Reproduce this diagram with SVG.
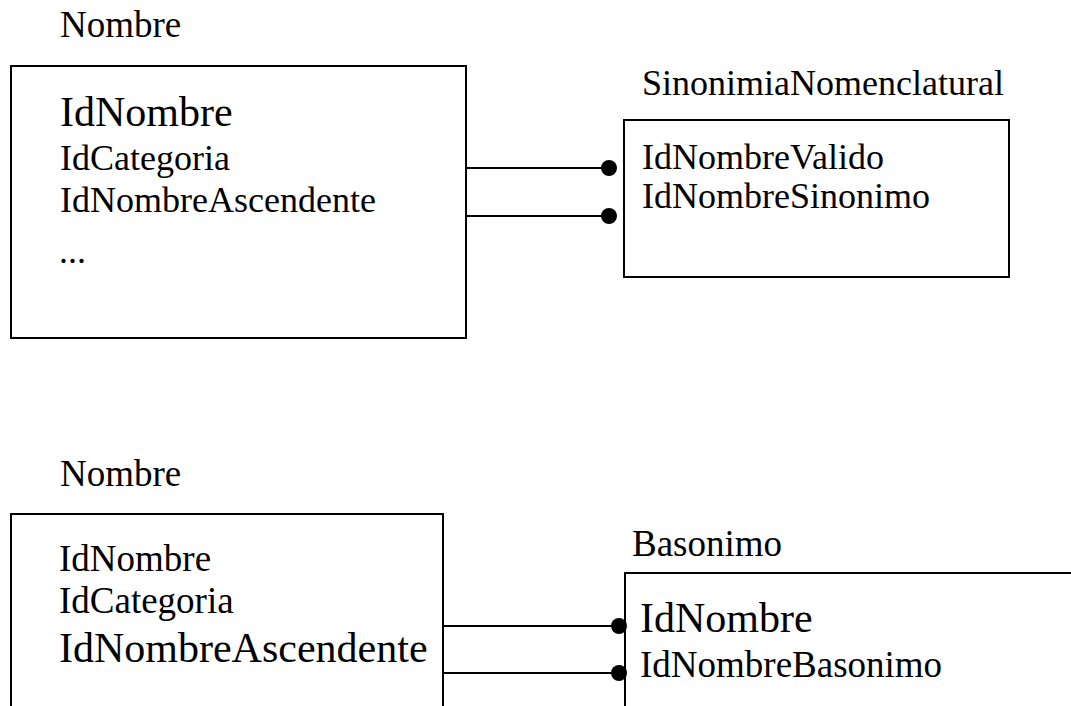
<svg xmlns="http://www.w3.org/2000/svg" width="1071" height="706" viewBox="0 0 1071 706">
<style>
  .box { fill: #ffffff; stroke: #000000; stroke-width: 2; }
  .conn { stroke: #000000; stroke-width: 2; fill: none; marker-end: url(#dot); }
  .t { font-family: "Liberation Serif", "Times New Roman", Times, serif; fill: #000000; font-size: 36px; }
  .m { font-size: 37px; }
  .big { font-size: 42px; }
</style>
<defs>
  <marker id="dot" markerUnits="userSpaceOnUse" markerWidth="18" markerHeight="18" refX="9" refY="9" viewBox="0 0 18 18" orient="auto">
    <circle cx="9" cy="9" r="8" fill="#000000"/>
  </marker>
</defs>
<rect width="1071" height="706" fill="#ffffff"/>

<g id="nombre-top">
  <text class="t m" x="60" y="37">Nombre</text>
  <rect class="box" x="11" y="66" width="455" height="272"/>
  <text class="t big" x="60" y="126">IdNombre</text>
  <text class="t" x="60" y="170">IdCategoria</text>
  <text class="t" x="60" y="212">IdNombreAscendente</text>
  <text class="t" x="59" y="263">...</text>
</g>

<g id="sinonimia">
  <text class="t" x="642" y="95">SinonimiaNomenclatural</text>
  <rect class="box" x="624" y="120" width="385" height="157"/>
  <text class="t" x="642" y="169">IdNombreValido</text>
  <text class="t" x="642" y="208">IdNombreSinonimo</text>
</g>

<g id="nombre-bottom">
  <text class="t m" x="60" y="486">Nombre</text>
  <rect class="box" x="11" y="514" width="432" height="220"/>
  <text class="t m" x="59" y="571">IdNombre</text>
  <text class="t m" x="59" y="613">IdCategoria</text>
  <text class="t big" x="59" y="662">IdNombreAscendente</text>
</g>

<g id="basonimo">
  <text class="t m" x="632" y="556">Basonimo</text>
  <rect class="box" x="625" y="573" width="480" height="200"/>
  <text class="t big" x="640" y="632">IdNombre</text>
  <text class="t m" x="640" y="677">IdNombreBasonimo</text>
</g>

<g id="connectors">
  <line class="conn" x1="466" y1="168" x2="609" y2="168"/>
  <line class="conn" x1="466" y1="216" x2="609" y2="216"/>
  <line class="conn" x1="443" y1="626" x2="619" y2="626"/>
  <line class="conn" x1="443" y1="673" x2="619" y2="673"/>
</g>
</svg>
